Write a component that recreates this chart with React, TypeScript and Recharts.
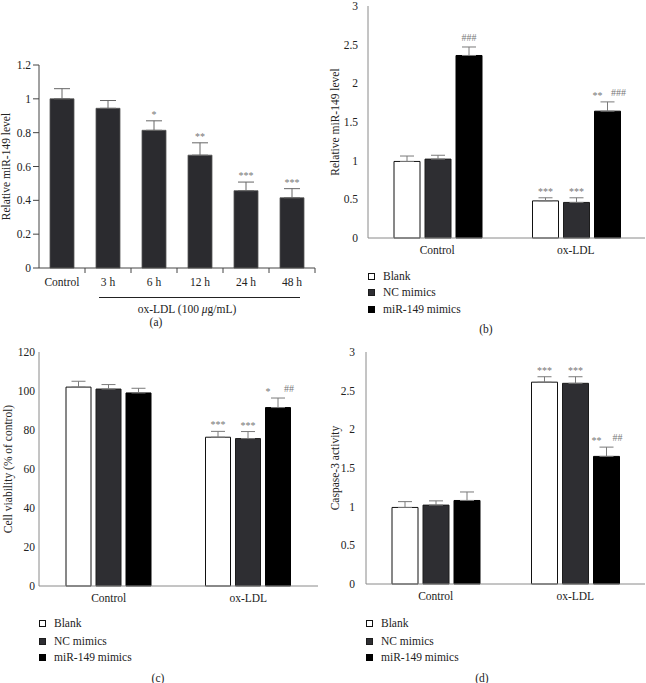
import React from 'react';
import { BarChart, Bar, XAxis, YAxis, ErrorBar, LabelList, Label } from 'recharts';

const FONT = '"Liberation Serif", "DejaVu Serif", serif';
const FS = 11.5;

// (a) time course
const timeLabels = ['Control', '3 h', '6 h', '12 h', '24 h', '48 h'];
const timeLevel = [1.0, 0.944, 0.814, 0.667, 0.457, 0.415];
const timeSd = [0.06, 0.046, 0.056, 0.073, 0.051, 0.054];
const timeSig = ['', '', '*', '**', '***', '***'];
const timeTicks = [0, 0.2, 0.4, 0.6, 0.8, 1, 1.2];

// shared groups / series for (b)-(d)
const groups = ['Control', 'ox-LDL'];
const seriesKeys = ['blank', 'nc', 'mir'];
const seriesNames = ['Blank', 'NC mimics', 'miR-149 mimics'];

// (b) miR-149 level
const bBlank = [0.99, 0.48];
const bBlankSd = [0.07, 0.04];
const bNc = [1.02, 0.46];
const bNcSd = [0.05, 0.06];
const bMir = [2.36, 1.64];
const bMirSd = [0.11, 0.12];
const bSigA = { blank: ['', '***'], nc: ['', '***'], mir: ['', '**'] };
const bSigB = { blank: ['', ''], nc: ['', ''], mir: ['###', '###'] };
const bTicks = [0, 0.5, 1, 1.5, 2, 2.5, 3];

// (c) cell viability
const cBlank = [102, 76.3];
const cBlankSd = [3, 3];
const cNc = [101, 75.6];
const cNcSd = [2.3, 3.6];
const cMir = [99, 91.5];
const cMirSd = [2.4, 4.9];
const cSigA = { blank: ['', '***'], nc: ['', '***'], mir: ['', '*'] };
const cSigB = { blank: ['', ''], nc: ['', ''], mir: ['', '##'] };
const cTicks = [0, 20, 40, 60, 80, 100, 120];

// (d) caspase-3 activity
const dBlank = [0.99, 2.61];
const dBlankSd = [0.075, 0.07];
const dNc = [1.02, 2.595];
const dNcSd = [0.055, 0.085];
const dMir = [1.08, 1.65];
const dMirSd = [0.11, 0.12];
const dSigA = { blank: ['', '***'], nc: ['', '***'], mir: ['', '**'] };
const dSigB = { blank: ['', ''], nc: ['', ''], mir: ['', '##'] };
const dTicks = [0, 0.5, 1, 1.5, 2, 2.5, 3];

const fills: Record<string, string> = { blank: '#ffffff', nc: '#2e2e32', mir: '#000000' };
const strokes: Record<string, string> = { blank: '#111111', nc: '#1c1c1c', mir: '#000000' };

const timeRows = timeLabels.map((name, i) => ({
  name,
  value: timeLevel[i],
  sd: timeSd[i],
  err: [0, timeSd[i]],
  sig: timeSig[i],
}));

function buildRows(vals: number[][], sds: number[][], sigA: any, sigB: any) {
  return groups.map((name, g) => {
    const row: any = { name };
    seriesKeys.forEach((k, s) => {
      row[k] = vals[s][g];
      row[k + 'Sd'] = sds[s][g];
      row[k + 'Err'] = [0, sds[s][g]];
      row[k + 'SigA'] = sigA[k][g];
      row[k + 'SigB'] = sigB[k][g];
    });
    return row;
  });
}

const bRows = buildRows([bBlank, bNc, bMir], [bBlankSd, bNcSd, bMirSd], bSigA, bSigB);
const cRows = buildRows([cBlank, cNc, cMir], [cBlankSd, cNcSd, cMirSd], cSigA, cSigB);
const dRows = buildRows([dBlank, dNc, dMir], [dBlankSd, dNcSd, dMirSd], dSigA, dSigB);

const sigStyle = { fontSize: 10, fill: '#777', fontFamily: FONT };

// star / hash marks above the error bar, placed with the bar's own scale
const sigLabel = (rows: any[], valKey: string, sdKey: string, aKey: string, bKey?: string) => (props: any) => {
  const vb = props.viewBox || props;
  const x = vb.x ?? props.x;
  const y = vb.y ?? props.y;
  const width = vb.width ?? props.width;
  const height = vb.height ?? props.height;
  const row = rows[props.index];
  if (!row) return null;
  const a = row[aKey];
  const b = bKey ? row[bKey] : '';
  if (!a && !b) return null;
  const perUnit = height / row[valKey];
  const top = y - row[sdKey] * perUnit;
  const cx = x + width / 2;
  return (
    <g>
      {a && (
        <text x={b ? cx - 10 : cx} y={top - 3} textAnchor="middle" {...sigStyle}>
          {a}
        </text>
      )}
      {b && (
        <text x={a ? cx + 11 : cx} y={top - 6} textAnchor="middle" {...sigStyle}>
          {b}
        </text>
      )}
    </g>
  );
};

const yTitle = (text: string, x: number) => (props: any) => {
  const vb = props.viewBox;
  const cy = vb.y + vb.height / 2;
  return (
    <text
      x={x}
      y={cy}
      transform={`rotate(-90, ${x}, ${cy})`}
      textAnchor="middle"
      dominantBaseline="central"
      fontSize={FS}
      fill="#222"
      fontFamily={FONT}
    >
      {text}
    </text>
  );
};

const tickStyle = { fontSize: FS, fill: '#222', fontFamily: FONT };

function TimeChart() {
  const half = (320 - 9 - 30 - 5) / timeLabels.length / 2;
  const TimeTick = (props: any) => {
    const { x, y, payload } = props;
    return (
      <g>
        <text x={x} y={y + 18} textAnchor="middle" {...tickStyle}>
          {payload.value}
        </text>
        <line x1={x + half} x2={x + half} y1={y} y2={y + 5} stroke="#444" />
      </g>
    );
  };
  return (
    <BarChart
      width={320}
      height={300}
      data={timeRows}
      margin={{ top: 65, right: 5, bottom: 0, left: 9 }}
      barCategoryGap={11}
    >
      <XAxis
        dataKey="name"
        height={32}
        axisLine={{ stroke: '#444' }}
        tickLine={false}
        tickSize={0}
        tickMargin={0}
        tick={<TimeTick />}
        interval={0}
      />
      <YAxis
        width={30}
        domain={[0, 1.2]}
        ticks={timeTicks}
        axisLine={{ stroke: '#444' }}
        tickLine={{ stroke: '#444' }}
        tickSize={6}
        tickMargin={2}
        tick={tickStyle}
        interval={0}
      >
        <Label content={yTitle('Relative miR-149 level', 6)} />
      </YAxis>
      <Bar dataKey="value" fill="#2b2b2f" stroke="#555" strokeWidth={0.8} isAnimationActive={false}>
        <ErrorBar dataKey="err" width={8} stroke="#666" strokeWidth={1} direction="y" isAnimationActive={false} />
        <LabelList dataKey="value" content={sigLabel(timeRows, 'value', 'sd', 'sig')} />
      </Bar>
    </BarChart>
  );
}

function GroupChart(p: {
  rows: any[];
  width: number;
  height: number;
  margin: any;
  yWidth: number;
  xHeight: number;
  domain: number[];
  ticks: number[];
  gap: number;
  catGap: number;
  title: string;
  titleX: number;
}) {
  return (
    <BarChart
      width={p.width}
      height={p.height}
      data={p.rows}
      margin={p.margin}
      barCategoryGap={p.catGap}
      barGap={5}
    >
      <XAxis
        dataKey="name"
        height={p.xHeight}
        axisLine={{ stroke: '#8a8a8a' }}
        tickLine={false}
        tick={tickStyle}
      />
      <YAxis
        width={p.yWidth}
        domain={p.domain}
        ticks={p.ticks}
        axisLine={{ stroke: '#8a8a8a' }}
        tickLine={false}
        tickSize={0}
        tickMargin={p.gap}
        tick={tickStyle}
        interval={0}
      >
        <Label content={yTitle(p.title, p.titleX)} />
      </YAxis>
      {seriesKeys.map((k) => (
        <Bar
          key={k}
          dataKey={k}
          name={k}
          fill={fills[k]}
          stroke={strokes[k]}
          strokeWidth={1}
          isAnimationActive={false}
        >
          <ErrorBar dataKey={k + 'Err'} width={7} stroke="#7a7a7a" strokeWidth={1} direction="y" isAnimationActive={false} />
          <LabelList dataKey={k} content={sigLabel(p.rows, k, k + 'Sd', k + 'SigA', k + 'SigB')} />
        </Bar>
      ))}
    </BarChart>
  );
}

function LegendBox({ left, rowsY }: { left: number; rowsY: number[] }) {
  return (
    <>
      {seriesKeys.map((k, i) => (
        <div
          key={k}
          style={{
            position: 'absolute',
            left,
            top: rowsY[i] - 8,
            height: 16,
            display: 'flex',
            alignItems: 'center',
            fontFamily: FONT,
            fontSize: FS,
            color: '#222',
            whiteSpace: 'nowrap',
          }}
        >
          <span
            style={{
              display: 'inline-block',
              width: 5,
              height: 5,
              background: fills[k],
              border: '1px solid ' + strokes[k],
              marginRight: 8,
            }}
          />
          {seriesNames[i]}
        </div>
      ))}
    </>
  );
}

const caption = (text: string, cx: number, cy: number) => (
  <div
    style={{
      position: 'absolute',
      left: cx - 20,
      width: 40,
      top: cy - 8,
      height: 16,
      lineHeight: '16px',
      textAlign: 'center',
      fontFamily: FONT,
      fontSize: FS,
      color: '#222',
    }}
  >
    {text}
  </div>
);

export default function App() {
  return (
    <div style={{ position: 'absolute', left: 0, top: 0, width: 646, height: 683, background: '#fff', overflow: 'hidden' }}>
      <div style={{ position: 'absolute', left: 0, top: 0 }}>
        <TimeChart />
      </div>
      <div style={{ position: 'absolute', left: 99, top: 297, width: 201, borderTop: '1px solid #222' }} />
      <div
        style={{
          position: 'absolute',
          left: 87,
          width: 200,
          top: 301,
          height: 16,
          lineHeight: '16px',
          textAlign: 'center',
          fontFamily: FONT,
          fontSize: FS,
          color: '#222',
        }}
      >
        ox-LDL (100 <i>μ</i>g/mL)
      </div>
      {caption('(a)', 156, 322)}

      <div style={{ position: 'absolute', left: 320, top: 0 }}>
        <GroupChart
          rows={bRows}
          width={326}
          height={262}
          margin={{ top: 6, right: 1, bottom: 0, left: 8 }}
          yWidth={40}
          xHeight={24}
          domain={[0, 3]}
          ticks={bTicks}
          gap={10}
          catGap={26}
          title="Relative miR-149 level"
          titleX={15}
        />
      </div>
      <LegendBox left={368} rowsY={[276, 292, 309]} />
      {caption('(b)', 486, 329)}

      <div style={{ position: 'absolute', left: 0, top: 345 }}>
        <GroupChart
          rows={cRows}
          width={320}
          height={265}
          margin={{ top: 7, right: 2, bottom: 0, left: 0 }}
          yWidth={39}
          xHeight={24}
          domain={[0, 120]}
          ticks={cTicks}
          gap={4}
          catGap={27}
          title="Cell viability (% of control)"
          titleX={8}
        />
      </div>
      <LegendBox left={39} rowsY={[623, 641, 657]} />
      {caption('(c)', 158, 678)}

      <div style={{ position: 'absolute', left: 320, top: 345 }}>
        <GroupChart
          rows={dRows}
          width={326}
          height={265}
          margin={{ top: 7, right: 1, bottom: 0, left: 6 }}
          yWidth={40}
          xHeight={26}
          domain={[0, 3]}
          ticks={dTicks}
          gap={11}
          catGap={26}
          title="Caspase-3 activity"
          titleX={15}
        />
      </div>
      <LegendBox left={366} rowsY={[623, 641, 657]} />
      {caption('(d)', 482, 678)}
    </div>
  );
}
